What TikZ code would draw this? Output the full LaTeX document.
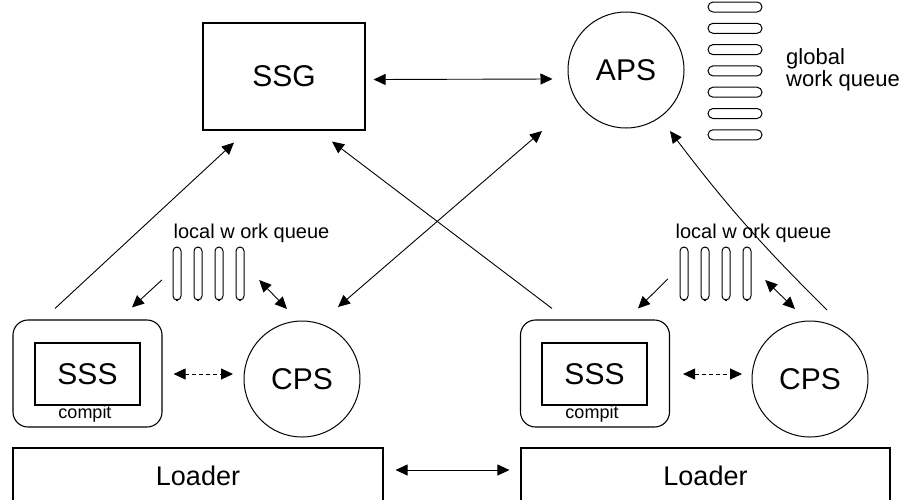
\documentclass[tikz,border=0pt]{standalone}
\usepackage{fontspec}
\setmainfont{Liberation Sans}
\usetikzlibrary{arrows.meta}
\newcommand{\srvfont}{\fontsize{30}{32}\selectfont}
\newcommand{\ldrfont}{\fontsize{27}{29}\selectfont}
\newcommand{\quefont}{\fontsize{20}{24}\selectfont}
\newcommand{\cmpfont}{\fontsize{18}{19}\selectfont}
\tikzstyle{box}=[draw, line width=1.1pt, inner sep=0pt]
\tikzstyle{server}=[circle, draw, line width=1pt, minimum size=116pt, inner sep=0pt, font=\srvfont]
\tikzstyle{arr}=[-{Triangle[length=12pt,width=11pt]}, line width=0.9pt]
\tikzstyle{biarr}=[{Triangle[length=12pt,width=11pt]}-{Triangle[length=12pt,width=11pt]}, line width=0.9pt]
\tikzstyle{dasharr}=[biarr, dash pattern=on 4pt off 3pt]
\tikzstyle{slot}=[draw, line width=1pt]

\begin{document}
\begin{tikzpicture}[x=1pt, y=-1pt]
\useasboundingbox (0,0) rectangle (902,499);
% Servers
    \node[box, minimum width=162pt, minimum height=107pt, font=\srvfont] (ssg) at (284,76.5) {SSG};
    \node[server] (aps) at (626,70) {APS};
    \node[server] (cpsL) at (302,379) {CPS};
    \node[server] (cpsR) at (810,379) {CPS};
% SSS boxes
    \node[box, rounded corners=15pt, minimum width=149pt, minimum height=107pt] (sssboxL) at (87.5,373.5) {};
    \node[box, minimum width=105pt, minimum height=62pt, font=\srvfont] (sssL) at (87.5,374) {SSS};
    \node[font=\cmpfont, inner sep=0pt] (cmpL) at (85,414) {compit};
    \node[box, rounded corners=15pt, minimum width=149pt, minimum height=107pt] (sssboxR) at (595,373.5) {};
    \node[box, minimum width=105pt, minimum height=62pt, font=\srvfont] (sssR) at (594.5,374) {SSS};
    \node[font=\cmpfont, inner sep=0pt] (cmpR) at (592,414) {compit};
% Loaders
    \node[box, minimum width=370pt, minimum height=56pt, font=\ldrfont] (loaderL) at (198,476) {Loader};
    \node[box, minimum width=369pt, minimum height=56pt, font=\ldrfont] (loaderR) at (705.5,476) {Loader};
% Global work queue
    \foreach \i in {0,...,6}
        \draw[slot, rounded corners=5pt] (708,7+21.3*\i-5) rectangle (762,7+21.3*\i+5);
    \node[anchor=west, align=left, font=\fontsize{22}{20}\selectfont, inner sep=0pt] (gqlabel) at (786,70) {global\\work queue};
% Local work queues
    \node[minimum width=71pt, minimum height=53pt, inner sep=0pt] (lqL) at (208.5,273.5) {};
    \node[minimum width=71pt, minimum height=53pt, inner sep=0pt] (lqR) at (715.5,273.5) {};
    \foreach \x in {177,684} {
        \foreach \i in {0,...,3} {
            \draw[slot, rounded corners=4pt] (\x+21*\i-4,247) rectangle (\x+21*\i+4,300);
            \fill (\x+21*\i,300) circle (1.3);
        }
    }
    \node[font=\quefont, inner sep=0pt] (lqlabelL) at (251.5,233) {local w ork queue};
    \node[font=\quefont, inner sep=0pt] (lqlabelR) at (753.5,233) {local w ork queue};
% Links
    \draw[biarr] ([shift={(8,3)}]ssg.east) -- ([shift={(-15,9)}]aps.west);
    \draw[arr] ([shift={(-32.5,-11)}]sssboxL.north) -- ([shift={(-50,12)}]ssg.south);
    \draw[arr] ([shift={(-43,-11)}]sssboxR.north) -- ([shift={(48,11)}]ssg.south);
    \draw[biarr] ([shift={(36,-72)}]cpsL.center) -- ([shift={(-84,61)}]aps.center);
    \draw[arr] ([shift={(17,-69)}]cpsR.center) to[bend left=4] ([shift={(44,61)}]aps.center);
    \draw[arr] ([shift={(-11,6.5)}]lqL.west) -- ([shift={(44.5,-12)}]sssboxL.north);
    \draw[arr] ([shift={(-12,5.5)}]lqR.west) -- ([shift={(43,-11)}]sssboxR.north);
    \draw[biarr] ([shift={(15,6.5)}]lqL.east) -- ([shift={(-15,-70)}]cpsL.center);
    \draw[biarr] ([shift={(14,6.5)}]lqR.east) -- ([shift={(-15,-70)}]cpsR.center);
    \draw[dasharr] ([shift={(11,0.5)}]sssboxL.east) -- ([shift={(-69,-5)}]cpsL.center);
    \draw[dasharr] ([shift={(13,0.5)}]sssboxR.east) -- ([shift={(-68,-5)}]cpsR.center);
    \draw[biarr] ([shift={(12,-6)}]loaderL.east) -- ([shift={(-11,-6)}]loaderR.west);
\end{tikzpicture}
\end{document}
